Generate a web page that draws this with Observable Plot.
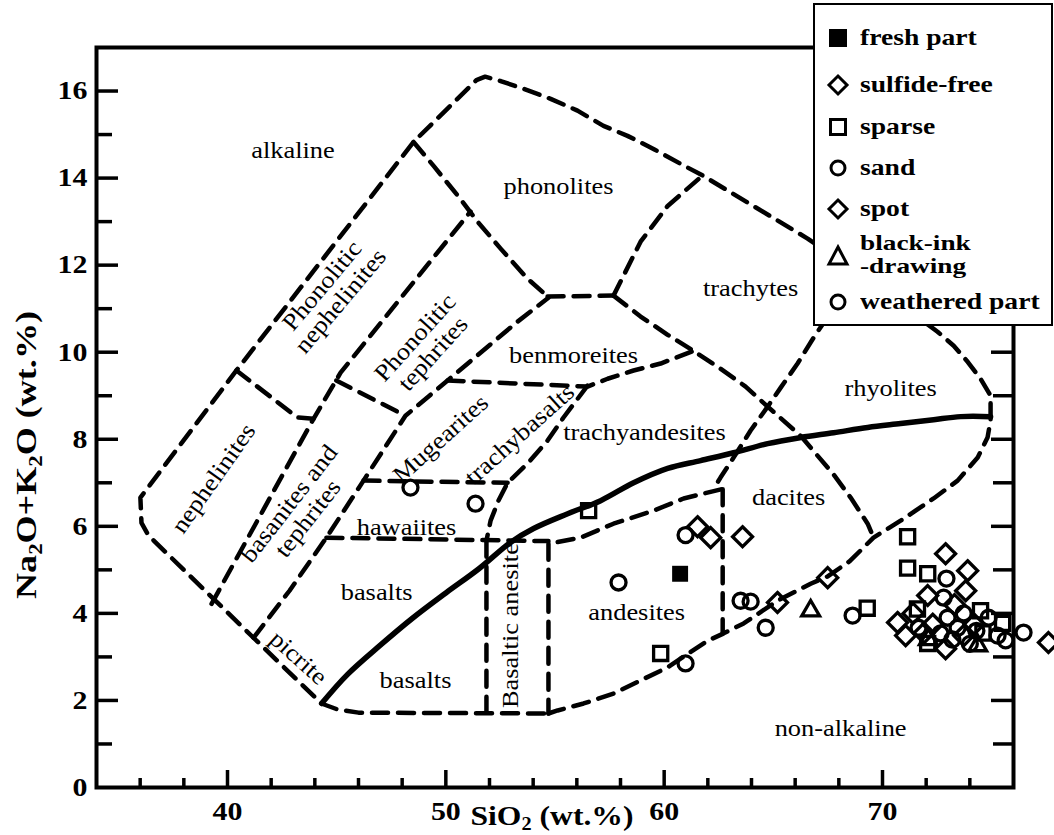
<!DOCTYPE html>
<html>
<head>
<meta charset="utf-8">
<script src="https://cdn.jsdelivr.net/npm/d3@7"></script>
<script src="https://cdn.jsdelivr.net/npm/@observablehq/plot@0.6"></script>
<style>
  html,body{margin:0;padding:0;background:#fff;}
  #wrap{position:relative;width:1054px;height:835px;overflow:hidden;font-family:"Liberation Serif","Times New Roman",serif;}
  #legend{position:absolute;left:813px;top:3px;width:240px;height:323px;box-sizing:border-box;border:2px solid #000;background:#fff;}
  .lg-row{position:absolute;left:0;width:100%;height:0;}
  .lg-sym{position:absolute;left:11px;top:-12px;}
  .lg-txt{position:absolute;left:45px;font-weight:bold;font-size:24px;line-height:24px;white-space:nowrap;transform:scaleX(1.15);transform-origin:0 50%;color:#000;}
  .lg-txt.two{font-size:21px;line-height:23px;transform:scaleX(1.3);}
</style>
</head>
<body>
<div id="wrap"><div id="chart"></div><div id="legend"></div></div>
<script>
// ---------- axes ----------
const xDomain = [34, 76];
const yDomain = [0, 17];
const xMajor = [40, 50, 60, 70];
const xMinor = [36, 38, 42, 44, 46, 48, 52, 54, 56, 58, 62, 64, 66, 68, 72, 74];
const yMajor = [0, 2, 4, 6, 8, 10, 12, 14, 16];
const yMinor = [1, 3, 5, 7, 9, 11, 13, 15];

// ---------- field boundaries (SiO2, Na2O+K2O) ----------
const outerBoundary = [
  [54.7,1.70],[55.12,1.77],[56.31,1.93],[57.68,2.16],[58.92,2.46],[60.16,2.76],[61.95,3.36],[62.68,3.53],
  [63.64,3.77],[65.19,4.29],[66.71,4.68],[67.49,4.85],[68.5,5.2],[69.59,5.74],[70.83,6.13],[72.34,6.64],
  [73.44,7.05],[74.36,7.58],[74.81,8.04],[74.95,8.43],[74.95,9.0],[74.49,9.39],[73.90,9.78],[73.26,10.15],
  [72.52,10.47],[69.5,11.6],[66.57,12.61],[61.76,14.06],[60.89,14.29],[59.51,14.67],[58.32,14.97],
  [57.22,15.20],[56.03,15.55],[54.80,15.82],[53.56,16.05],[52.51,16.23],[51.8,16.33],[51.4,16.25],
  [48.52,14.83],[40.41,9.58],[36.01,6.66],[36.06,6.08],[36.38,5.79],[41.19,3.44],[44.3,1.93],
  [45.0,1.80],[46.0,1.72],[54.7,1.70]
];
const nepheliniteTop = [[40.41,9.58],[43.2,8.5],[43.94,8.47]];
const basaniteLeft = [[39.27,4.22],[43.94,8.47],[45.18,9.53],[51.13,13.23]];
const phonoTephriteBase = [[44.98,9.35],[48.15,8.54]];
const basaniteRight = [[41.19,3.44],[42.84,4.52],[44.53,5.74],[46.23,7.05],[48.15,8.54],[50.08,9.35],[52.19,10.24],[53.28,10.70],[54.70,11.25]];
const phonoliteLeft = [[48.52,14.83],[49.44,14.28],[50.67,13.52],[51.45,13.0],[52.51,12.38],[53.74,11.69],[54.66,11.28]];
const benmoreiteTop = [[54.66,11.28],[57.68,11.30]];
const phonoliteRight = [[57.68,11.30],[58.92,12.54],[60.16,13.36],[61.76,14.06]];
const trachyteBase = [[57.68,11.30],[58.92,10.82],[60.16,10.40],[61.35,10.03],[62.58,9.62],[63.73,9.21],[64.74,8.75],[66.25,8.08],[67.76,7.19],[68.54,6.66],[69.32,6.06],[69.59,5.74]];
const daciteTop = [[68.81,11.81],[66.84,10.33],[66.11,9.74],[65.33,9.18],[64.74,8.75],[63.96,8.20],[63.18,7.58],[62.58,7.12],[62.3,6.89]];
const daciteLeft = [[62.68,6.85],[62.68,3.53]];
const andesiteTop = [[62.6,6.85],[60.89,6.64],[59.51,6.36],[57.68,6.06],[56.17,5.74],[54.7,5.60]];
const andesiteLeft = [[54.7,5.60],[54.7,1.70]];
const basAndesiteLeft = [[51.86,5.67],[51.86,1.72]];
const hawaiiteBase = [[44.53,5.74],[54.7,5.66]];
const mugeariteBase = [[46.23,7.05],[52.83,7.0]];
const trachybasaltLine = [[56.49,9.23],[55.39,8.50],[54.66,7.97],[53.74,7.44],[52.83,7.00],[52.41,6.59],[52.05,6.13],[51.86,5.67]];
const benmoreiteBase = [[50.08,9.35],[56.49,9.21],[57.41,9.39],[58.60,9.58],[59.84,9.74],[61.35,10.03]];
const alkalineDivide = [
  [44.31,1.93],[45.5,2.6],[47.0,3.27],[48.5,3.9],[50.0,4.47],[51.5,5.02],
  [52.96,5.63],[54.02,5.95],[55.58,6.29],[57.09,6.59],[58.60,7.00],[60.16,7.33],[61.67,7.51],[63.18,7.69],
  [64.74,7.90],[66.25,8.04],[67.76,8.15],[69.32,8.27],[70.83,8.36],[72.34,8.45],[73.58,8.52],[74.95,8.52]
];

// ---------- field labels ----------
const labelText = ["alkaline","phonolites","trachytes","benmoreites","rhyolites","dacites","trachyandesites",
  "andesites","hawaiites","basalts","basalts","non-alkaline","Basaltic anesite","picrite","nephelinites",
  "basanites and\ntephrites","Phonolitic\nnephelinites","Phonolitic\ntephrites","Mugearites","trachybasalts"];
const labelX = [43.0,55.16,63.96,55.85,70.37,65.70,59.10,58.74,48.2,46.83,48.61,68.08,52.96,43.25,39.36,43.25,44.75,49.0,49.76,53.38];
const labelY = [14.63,13.80,11.46,9.92,9.16,6.66,8.15,4.02,5.97,4.48,2.46,1.35,3.72,2.98,7.1,6.35,11.35,10.15,8.01,8.11];
const labelRot = [0,0,0,0,0,0,0,0,0,0,0,0,-90,42,-55,-52,-50,-48,-42,-42];

// ---------- samples ----------
const freshPart = [[60.73,4.91]];
const sulfideFree = [[61.53,5.99],[62.13,5.74],[63.59,5.76],[65.19,4.25],[67.49,4.82]];
const sparse = [[56.54,6.36],[59.84,3.08],[69.30,4.12],[71.15,5.76],[71.15,5.04],[72.07,4.91],[74.49,4.06],[72.07,3.31],[74.6,3.55],[75.5,3.77],[71.6,4.1]];
const sand = [[48.38,6.89],[51.36,6.52],[57.91,4.71],[60.98,5.80],[60.98,2.85],[63.50,4.29],[63.96,4.27],[64.65,3.67],[68.63,3.95]];
const spot = [[72.89,5.37],[73.90,4.98],[73.81,4.52],[72.07,4.41],[70.69,3.79],[71.06,3.49],[72.89,3.19],[73.72,3.49],[77.6,3.33],[71.4,4.0],[72.3,3.75],[74.2,3.75],[73.3,4.2],[71.9,3.55]];
const blackInk = [[66.71,4.06],[74.36,3.26],[72.1,3.4]];
const weathered = [[72.93,4.80],[72.80,4.36],[72.98,3.90],[73.72,4.0],[73.44,3.67],[72.66,3.54],[71.65,3.67],[74.86,3.90],[75.27,3.49],[75.64,3.38],[76.46,3.56],[73.2,3.4],[74.0,3.3],[74.3,3.6]];

const legendNames = ["fresh part","sulfide-free","sparse","sand","spot","black-ink\n-drawing","weathered part"];
const legendShapes = ["fsquare","diamond","square","circle","diamond","triangle","circle"];

// ---------- build ----------
const W = 1054, H = 835;
const M = {left: 96, right: 41, top: 47, bottom: 48};
const plotW = W - M.left - M.right, plotH = H - M.top - M.bottom;

const dashed = (pts) => Plot.line(pts, {x: d => d[0], y: d => d[1], stroke: "black", strokeWidth: 4.5, strokeDasharray: "16,10"});
const labels = labelText.map((t, i) => ({t, x: labelX[i], y: labelY[i], r: labelRot[i]}));
const dots = (pts, symbol, r, fill) => Plot.dot(pts, {x: d => d[0], y: d => d[1], symbol, r, stroke: fill === "black" ? "none" : "black", fill, strokeWidth: 3.3});

const chart = Plot.plot({
  width: W, height: H,
  marginLeft: M.left, marginRight: M.right, marginTop: M.top, marginBottom: M.bottom,
  x: {domain: xDomain},
  y: {domain: yDomain},
  style: {fontFamily: "'Liberation Serif','Times New Roman',serif", background: "white", color: "black"},
  marks: [
    // inward ticks
    Plot.tickY(yMajor.filter(v => v > 0), {y: d => d, insetRight: plotW - 22, strokeWidth: 3.5}),
    Plot.tickY(yMinor, {y: d => d, insetRight: plotW - 16, strokeWidth: 3.5}),
    Plot.tickY(yMajor.filter(v => v > 0), {y: d => d, insetLeft: plotW - 22, strokeWidth: 3.5}),
    Plot.tickY(yMinor, {y: d => d, insetLeft: plotW - 20, strokeWidth: 3.5}),
    Plot.tickX(xMajor, {x: d => d, insetTop: plotH - 17, strokeWidth: 3.5}),
    Plot.tickX(xMinor, {x: d => d, insetTop: plotH - 9, strokeWidth: 3.5}),
    Plot.frame({stroke: "black", strokeWidth: 4}),
    // boundaries
    dashed(outerBoundary), dashed(nepheliniteTop), dashed(basaniteLeft), dashed(phonoTephriteBase),
    dashed(basaniteRight), dashed(phonoliteLeft), dashed(benmoreiteTop), dashed(phonoliteRight),
    dashed(trachyteBase), dashed(daciteTop), dashed(daciteLeft), dashed(andesiteTop), dashed(andesiteLeft),
    dashed(basAndesiteLeft), dashed(hawaiiteBase), dashed(mugeariteBase), dashed(trachybasaltLine),
    dashed(benmoreiteBase),
    Plot.line(alkalineDivide, {x: d => d[0], y: d => d[1], stroke: "black", strokeWidth: 5.5, curve: "catmull-rom"}),
    // labels
    Plot.text(labels, {x: "x", y: "y", text: "t", rotate: "r", fontSize: 24, fontWeight: "normal", lineHeight: 1.0, fill: "black"}),
    // samples
    dots(freshPart, "square", 9, "black"),
    dots(sulfideFree, "diamond2", 9, "none"),
    dots(sparse, "square2", 9, "none"),
    dots(sand, "circle", 7.5, "none"),
    dots(spot, "diamond2", 9, "none"),
    dots(blackInk, "triangle2", 8.5, "none"),
    dots(weathered, "circle", 7.5, "none"),
    // tick labels
    Plot.axisX(xMajor, {anchor: "bottom", tickSize: 0, tickPadding: 14, fontSize: 26, fontWeight: "bold", label: null}),
    Plot.axisY(yMajor, {anchor: "left", tickSize: 0, tickPadding: 9, fontSize: 26, fontWeight: "bold", label: null})
  ]
});
document.getElementById("chart").appendChild(chart);

// horizontal widening of the serif lettering, as in the reference
chart.querySelectorAll("text").forEach(el => {
  const t = el.getAttribute("transform");
  if (t && t.includes("translate")) el.setAttribute("transform", t + (t.includes("rotate") ? " scale(1.1,1)" : " scale(1.15,1)"));
});

// axis titles with subscripts
const svg = d3.select(chart);
const xt = svg.append("text").attr("x", 552).attr("y", 825).attr("text-anchor", "middle")
  .attr("font-size", 28).attr("font-weight", "bold").attr("fill", "black")
  .attr("textLength", 163).attr("lengthAdjust", "spacingAndGlyphs");
xt.append("tspan").text("SiO");
xt.append("tspan").attr("font-size", 18).attr("dy", 5).text("2");
xt.append("tspan").attr("dy", -5).text(" (wt.%)");
const yt = svg.append("text").attr("transform", "translate(36,455) rotate(-90)").attr("text-anchor", "middle")
  .attr("font-size", 30).attr("font-weight", "bold").attr("fill", "black")
  .attr("textLength", 288).attr("lengthAdjust", "spacingAndGlyphs");
yt.append("tspan").text("Na");
yt.append("tspan").attr("font-size", 19).attr("dy", 6).text("2");
yt.append("tspan").attr("dy", -6).text("O+K");
yt.append("tspan").attr("font-size", 19).attr("dy", 6).text("2");
yt.append("tspan").attr("dy", -6).text("O (wt.%)");

// legend
const rowY = [33, 80, 122, 163, 204, 251, 297];
const lg = d3.select("#legend");
legendNames.forEach((name, i) => {
  const row = lg.append("div").attr("class", "lg-row").style("top", rowY[i] + "px");
  const s = row.append("svg").attr("class", "lg-sym").attr("width", 24).attr("height", 24);
  const g = s.append("g").attr("transform", "translate(12,12)");
  const shp = legendShapes[i];
  if (shp === "fsquare") g.append("rect").attr("x", -9).attr("y", -9).attr("width", 18).attr("height", 18).attr("fill", "black");
  if (shp === "square") g.append("rect").attr("x", -7.5).attr("y", -7.5).attr("width", 15).attr("height", 15).attr("fill", "none").attr("stroke", "black").attr("stroke-width", 3);
  if (shp === "circle") g.append("circle").attr("r", 7).attr("fill", "none").attr("stroke", "black").attr("stroke-width", 3);
  if (shp === "diamond") g.append("path").attr("d", "M0,-9L9,0L0,9L-9,0Z").attr("fill", "none").attr("stroke", "black").attr("stroke-width", 3);
  if (shp === "triangle") g.append("path").attr("d", "M0,-9L9,8L-9,8Z").attr("fill", "none").attr("stroke", "black").attr("stroke-width", 3);
  const lines = name.split("\n");
  const tx = row.append("div").attr("class", "lg-txt" + (lines.length > 1 ? " two" : ""))
    .style("top", (lines.length > 1 ? -24 : -13) + "px");
  tx.html(lines.join("<br>"));
});
</script>
</body>
</html>
